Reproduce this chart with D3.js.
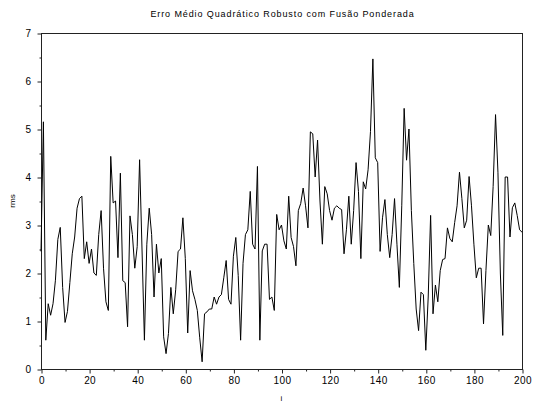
<!DOCTYPE html>
<html>
<head>
<meta charset="utf-8">
<script src="https://cdn.jsdelivr.net/npm/d3@7"></script>
<style>
  body { margin: 0; background: #fff; }
  svg { display: block; }
  text { font-family: "Liberation Sans", Arial, sans-serif; fill: #000; }
</style>
</head>
<body>
<div class="chart"></div>
<script>
// rms per sample i = 0..200
var rmsValues = [
	2.45, 5.15, 0.6, 1.36, 1.12, 1.36, 1.85, 2.7, 2.95, 1.7,
	0.97, 1.2, 1.8, 2.4, 2.75, 3.35, 3.55, 3.6, 2.3, 2.65,
	2.2, 2.5, 2.0, 1.95, 2.8, 3.3, 2.1, 1.4, 1.22, 4.43,
	3.46, 3.5, 2.32, 4.08, 1.84, 1.8, 0.88, 3.19, 2.8, 2.1,
	2.55, 4.36, 2.5, 0.6, 2.6, 3.35, 2.8, 1.5, 2.6, 2.0,
	2.3, 0.67, 0.32, 0.74, 1.7, 1.15, 1.65, 2.45, 2.5, 3.15,
	2.3, 0.75, 2.05, 1.63, 1.45, 1.22, 0.65, 0.15, 1.15, 1.19,
	1.25, 1.25, 1.5, 1.35, 1.5, 1.55, 1.9, 2.26, 1.45, 1.35,
	2.35, 2.74, 1.95, 0.6, 2.2, 2.8, 2.9, 3.7, 2.6, 2.5,
	4.22, 0.6, 2.46, 2.6, 2.6, 1.45, 1.5, 1.22, 3.22, 2.9,
	3.0, 2.67, 2.5, 3.6, 2.74, 2.55, 2.15, 3.3, 3.45, 3.77,
	3.4, 2.94, 4.94, 4.9, 4.0, 4.77, 3.5, 2.6, 3.8, 3.65,
	3.3, 3.1, 3.35, 3.4, 3.35, 3.32, 2.4, 2.9, 3.6, 2.6,
	3.3, 4.3, 3.7, 2.3, 3.9, 3.75, 4.15, 4.95, 6.46, 4.4,
	4.3, 2.45, 3.15, 3.53, 2.8, 2.32, 2.8, 3.55, 2.6, 1.7,
	3.4, 5.43, 4.35, 5.0, 3.3, 2.2, 1.25, 0.8, 1.6, 1.55,
	0.39, 1.5, 3.2, 1.15, 1.75, 1.4, 2.05, 2.28, 2.3, 2.94,
	2.72, 2.65, 3.05, 3.4, 4.1, 3.55, 2.94, 3.1, 4.01, 3.4,
	2.6, 1.9, 2.1, 2.1, 0.94, 2.05, 3.0, 2.78, 3.8, 5.3,
	4.1, 2.0, 0.7, 4.0, 4.0, 2.75, 3.36, 3.46, 3.2, 2.9,
	2.85
];

var xTicks = [0, 20, 40, 60, 80, 100, 120, 140, 160, 180, 200];
var xMinorTicks = [10, 30, 50, 70, 90, 110, 130, 150, 170, 190];
var yTicks = [0, 1, 2, 3, 4, 5, 6, 7];
var yMinorTicks = [0.5, 1.5, 2.5, 3.5, 4.5, 5.5, 6.5];

var titleText = 'Erro Médio Quadrático Robusto com Fusão Ponderada';
var xLabel = 'i';
var yLabel = 'rms';

var W = 534, H = 405;
var plotLeft = 41, plotRight = 522, plotTop = 33, plotBottom = 369;

var svg = d3.select('.chart')
	.append('svg')
	.attr('width', W)
	.attr('height', H);

var x = d3.scaleLinear().domain([0, 200]).range([plotLeft, plotRight]);
var y = d3.scaleLinear().domain([0, 7]).range([plotBottom, plotTop]);

// frame
svg.append('rect')
	.attr('x', plotLeft + 0.5)
	.attr('y', plotTop + 0.5)
	.attr('width', plotRight - plotLeft)
	.attr('height', plotBottom - plotTop)
	.attr('fill', 'none')
	.attr('stroke', '#222')
	.attr('stroke-width', 1);

var styleAxis = function(g) {
	g.select('.domain').remove();
	g.selectAll('line').attr('stroke', '#222');
	g.selectAll('text')
		.style('font-family', '"Liberation Sans", Arial, sans-serif')
		.style('font-size', '10px')
		.style('letter-spacing', '0.4px')
		.attr('fill', '#111');
};

svg.append('g')
	.attr('transform', 'translate(0.5,' + (plotBottom + 0.5) + ')')
	.call(d3.axisBottom(x).tickValues(xTicks).tickSize(4).tickPadding(3).tickFormat(d3.format('d')))
	.call(styleAxis);

svg.append('g')
	.attr('transform', 'translate(0.5,' + (plotBottom + 0.5) + ')')
	.call(d3.axisBottom(x).tickValues(xMinorTicks).tickSize(2).tickFormat(''))
	.call(styleAxis);

svg.append('g')
	.attr('transform', 'translate(' + (plotLeft + 0.5) + ',0.5)')
	.call(d3.axisLeft(y).tickValues(yTicks).tickSize(4).tickPadding(6).tickFormat(d3.format('d')))
	.call(styleAxis);

svg.append('g')
	.attr('transform', 'translate(' + (plotLeft + 0.5) + ',0.5)')
	.call(d3.axisLeft(y).tickValues(yMinorTicks).tickSize(2).tickFormat(''))
	.call(styleAxis);

// data line
var line = d3.line()
	.x(function(d, i) { return x(i); })
	.y(function(d) { return y(d); });

svg.append('path')
	.datum(rmsValues)
	.attr('fill', 'none')
	.attr('stroke', '#000')
	.attr('stroke-width', 1)
	.attr('d', line);

// labels
svg.append('text')
	.attr('x', (plotLeft + plotRight) / 2 + 1)
	.attr('y', 17)
	.attr('text-anchor', 'middle')
	.style('font-size', '9px')
	.style('letter-spacing', '0.9px')
	.text(titleText);

svg.append('text')
	.attr('x', (plotLeft + plotRight) / 2)
	.attr('y', 401)
	.attr('text-anchor', 'middle')
	.style('font-size', '8px')
	.text(xLabel);

svg.append('text')
	.attr('transform', 'translate(15,' + ((plotTop + plotBottom) / 2) + ') rotate(-90)')
	.attr('text-anchor', 'middle')
	.style('font-size', '8px')
	.text(yLabel);
</script>
</body>
</html>
